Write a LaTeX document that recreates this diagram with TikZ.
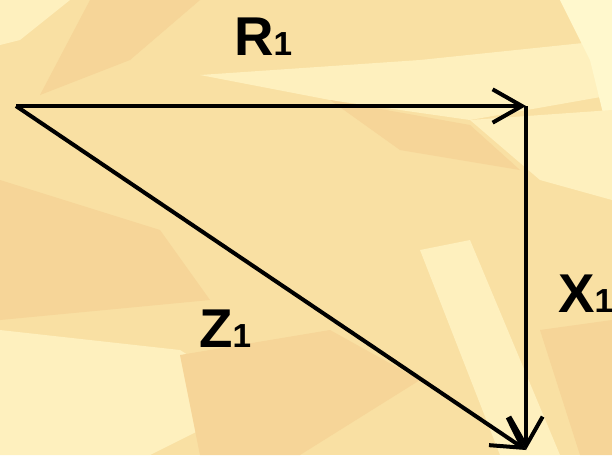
\documentclass[tikz,border=0pt]{standalone}
\usepackage{fontspec}
\setmainfont{Liberation Sans}
\usetikzlibrary{arrows.meta}

\definecolor{paper}{RGB}{249,224,163}
\definecolor{paperlight}{RGB}{254,240,190}
\definecolor{paperpale}{RGB}{255,248,205}
\definecolor{paperdark}{RGB}{246,213,152}

\begin{document}
\begin{tikzpicture}[x=0.75pt,y=-0.75pt,
vec/.style={line width=3pt,-{Straight Barb[length=22pt,width=25pt,line width=3pt]}},
lbl/.style={font=\bfseries,anchor=base west,inner sep=0pt}]
% background texture
\fill[paper] (0,0) rectangle (612,455);
\useasboundingbox (0,0) rectangle (612,455);
\fill[paperlight] (0,0) -- (70,0) -- (20,40) -- (0,45) -- cycle;
\fill[paperdark] (90,0) -- (200,0) -- (130,60) -- (40,95) -- cycle;
\fill[paperlight] (200,75) -- (420,60) -- (612,40) -- (612,95) -- (470,120) -- (330,100) -- cycle;
\fill[paperpale] (560,0) -- (612,0) -- (612,150) -- (590,60) -- cycle;
\fill[paperlight] (470,120) -- (612,110) -- (612,200) -- (540,180) -- cycle;
\fill[paperdark] (330,100) -- (470,125) -- (520,170) -- (400,150) -- cycle;
\fill[paperdark] (0,180) -- (160,230) -- (210,300) -- (0,320) -- cycle;
\fill[paperlight] (0,330) -- (180,350) -- (260,400) -- (150,455) -- (0,455) -- cycle;
\fill[paperdark] (180,355) -- (330,330) -- (420,380) -- (300,455) -- (200,455) -- cycle;
\fill[paperlight] (420,250) -- (470,240) -- (560,455) -- (500,455) -- cycle;
\fill[paperdark] (540,330) -- (612,320) -- (612,455) -- (580,455) -- cycle;
% vectors
\coordinate (o) at (16,106);
\coordinate (r) at (526,106);
\coordinate (x) at (526,450);
\draw[vec] (o) -- (r);
\draw[vec] (r) -- (x);
\draw[vec] (o) -- (x);
% labels
\node[lbl] (rlab) at (234,55) {\fontsize{41}{41}\selectfont R\fontsize{25}{25}\selectfont 1};
\node[lbl] (xlab) at (558,312) {\fontsize{41}{41}\selectfont X\fontsize{25}{25}\selectfont 1};
\node[lbl] (zlab) at (199,347) {\fontsize{41}{41}\selectfont Z\fontsize{25}{25}\selectfont 1};
\end{tikzpicture}
\end{document}
